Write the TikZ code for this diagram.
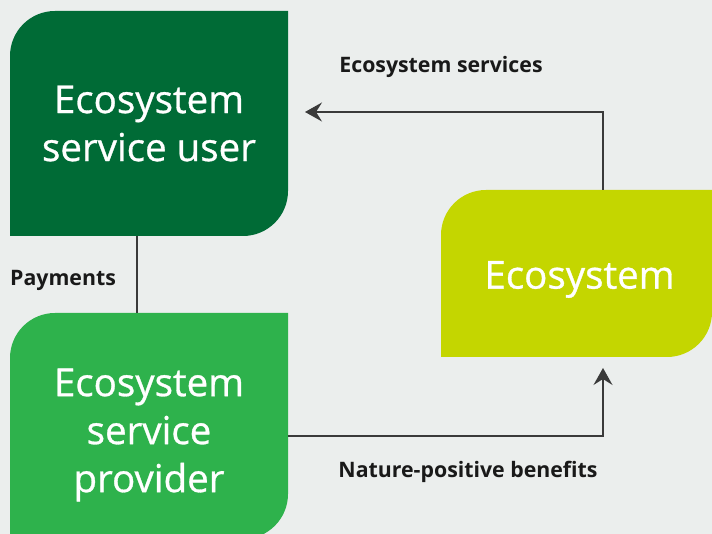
\documentclass[tikz,border=0pt]{standalone}
\usepackage{fontspec}
\setmainfont{Open Sans}
\newfontfamily\boxfont{Open Sans}[FakeBold=0.8]
\usetikzlibrary{arrows.meta,backgrounds}
\definecolor{bgc}{HTML}{EBEEED}
\definecolor{darkg}{HTML}{006B36}
\definecolor{midg}{HTML}{2EB24C}
\definecolor{lime}{HTML}{C4D600}
\definecolor{linec}{HTML}{3A3A3A}
\tikzset{
  boxtext/.style={text=white, font=\boxfont\fontsize{38.5}{48}\selectfont, align=center, inner sep=0pt},
  lbl/.style={text=black!90, font=\bfseries\fontsize{21.3}{25}\selectfont, inner sep=0pt},
  conn/.style={draw=linec, line width=1.3pt},
  arr/.style={conn, -{Stealth[length=17pt,width=19pt,inset=6pt]}},
  frame/.style={minimum width=#1, inner sep=0pt, outer sep=0pt},
}
\newcommand{\leafshape}[3]{% nodename, colour, radius
  \fill[#2] (#1.south west) -- ([yshift=-#3]#1.north west) arc[start angle=180,end angle=90,radius=#3]
    -- (#1.north east) -- ([yshift=#3]#1.south east) arc[start angle=0,end angle=-90,radius=#3] -- cycle;}
\begin{document}
\begin{tikzpicture}[x=1pt,y=1pt]
\useasboundingbox[fill=bgc] (0,0) rectangle (712,534);
\begin{scope}
\clip (0,0) rectangle (712,534);
% frames (invisible) for the three boxes
\node[frame=278pt, minimum height=225pt] (user) at (149,410.5) {};
\node[frame=278pt, minimum height=226pt] (prov) at (149,108) {};
\node[frame=271pt, minimum height=167pt] (eco) at (576.5,260.5) {};
\leafshape{user}{darkg}{45pt}
\leafshape{prov}{midg}{45pt}
\leafshape{eco}{lime}{45pt}
\end{scope}
\node[boxtext] (usert) at (user.center) {Ecosystem\\service user};
\node[boxtext] (provt) at ([yshift=-9pt]prov.center) {Ecosystem\\service\\provider};
\node[boxtext] (ecot) at ([xshift=3pt,yshift=-6pt]eco.center) {Ecosystem};
% connectors
\coordinate (ecotop) at (603,344);
\coordinate (bend1) at (603,422);
\coordinate (tip1) at (305,422);
\draw[arr] (ecotop) -- (bend1) -- (tip1);
\coordinate (provright) at (288,98);
\coordinate (bend2) at (603,98);
\coordinate (tip2) at (603,166);
\draw[arr] (provright) -- (bend2) -- (tip2);
\draw[conn] (user.south -| 137,0) -- (prov.north -| 137,0);
% labels
\node[lbl] (l1) at (441,467.5) {Ecosystem services};
\node[lbl] (l2) at (468,62.5) {Nature-positive benefits};
\node[lbl, anchor=west] (l3) at (10,254) {Payments};
\end{tikzpicture}
\end{document}
